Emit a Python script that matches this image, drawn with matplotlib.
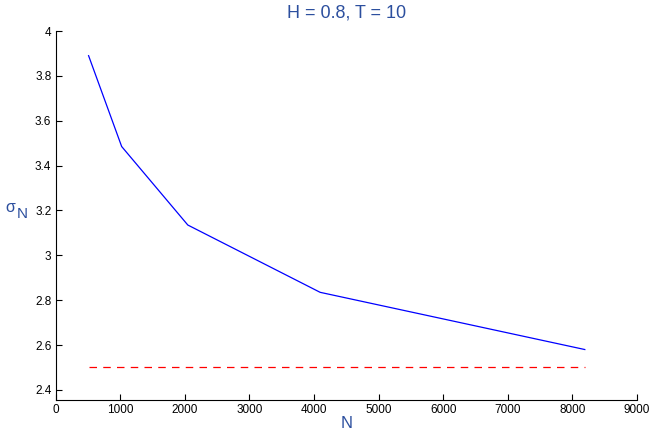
import matplotlib
matplotlib.use("Agg")
import matplotlib.pyplot as plt

N = [512, 1024, 2048, 4096, 8192]
sigma = [3.89, 3.485, 3.135, 2.835, 2.58]
ref_N = [512, 8192]
ref_val = [2.5, 2.5]
xticks = [0, 1000, 2000, 3000, 4000, 5000, 6000, 7000, 8000, 9000]
yticks = [2.4, 2.6, 2.8, 3.0, 3.2, 3.4, 3.6, 3.8, 4.0]
ytick_labels = ["2.4", "2.6", "2.8", "3", "3.2", "3.4", "3.6", "3.8", "4"]

plt.rcParams['font.family'] = ['Liberation Sans', 'DejaVu Sans']
label_color = '#2c4f9e'

fig = plt.figure(figsize=(6.54, 4.30), dpi=100)
ax = fig.add_axes([55.5/654, 1 - 400/430, (637 - 55.5)/654, (400 - 31)/430])

ax.plot(N, sigma, color='#0000ff', lw=0.9)
ax.plot(ref_N, ref_val, color='#ff0000', lw=0.9, ls=(0, (6, 5)))

ax.set_xlim(0, 9000)
ax.set_ylim(2.355, 4.0)
ax.set_xticks(xticks)
ax.set_yticks(yticks)
ax.set_yticklabels(ytick_labels)
ax.tick_params(direction='in', length=4, width=0.8, labelsize=8.5, pad=3)
for s in ['top', 'right']:
    ax.spines[s].set_visible(False)
for s in ['left', 'bottom']:
    ax.spines[s].set_linewidth(0.8)

fig.text((55.5 + 637) / 2 / 654, 1 - 13/430, 'H = 0.8, T = 10', color=label_color,
         fontsize=13, ha='center', va='center')
ax.set_xlabel('N', color=label_color, fontsize=12, labelpad=0)
fig.text(5/654, 1 - 207/430, 'σ', color=label_color, fontsize=11.5,
         ha='left', va='center')
fig.text(17/654, 1 - 214/430, 'N', color=label_color, fontsize=11,
         ha='left', va='center')

fig.savefig('out.png', dpi=100)
